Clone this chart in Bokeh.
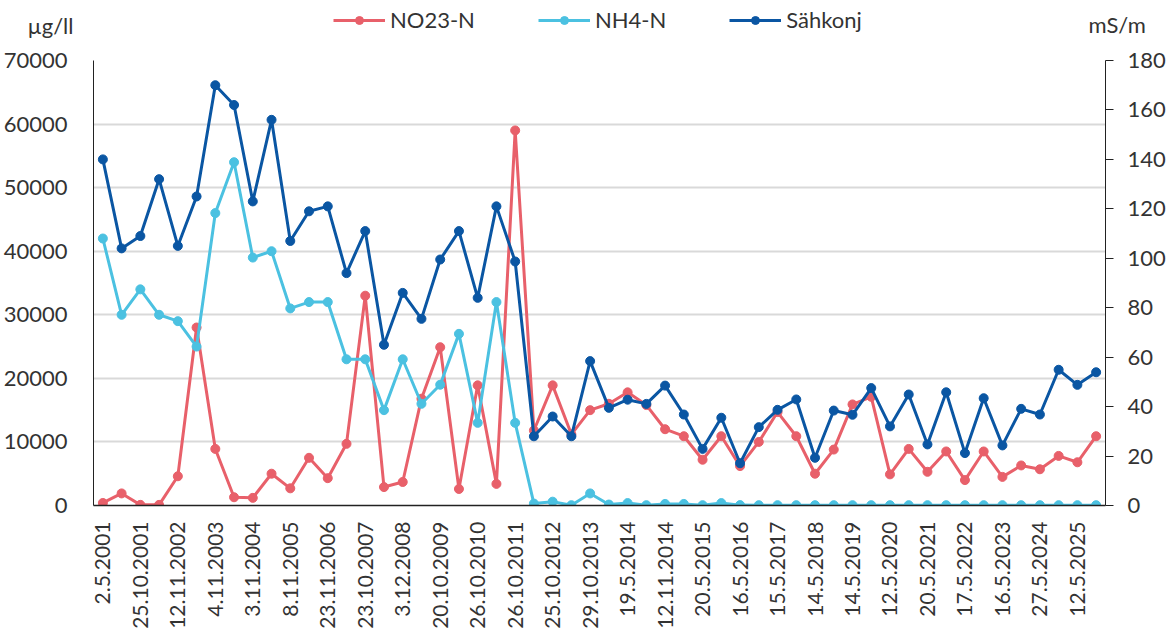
from bokeh.plotting import figure
from bokeh.layouts import column
from bokeh.models import (Range1d, LinearAxis, FixedTicker, Legend, LegendItem, Label)
from bokeh.embed import file_html
from bokeh.resources import INLINE
import math

tick_labels = ["2.5.2001", "25.10.2001", "12.11.2002", "4.11.2003", "3.11.2004", "8.11.2005",
               "23.11.2006", "23.10.2007", "3.12.2008", "20.10.2009", "26.10.2010", "26.10.2011",
               "25.10.2012", "29.10.2013", "19.5.2014", "12.11.2014", "20.5.2015", "16.5.2016",
               "15.5.2017", "14.5.2018", "14.5.2019", "12.5.2020", "20.5.2021", "17.5.2022",
               "16.5.2023", "27.5.2024", "12.5.2025"]

no23_n = [400, 1900, 100, 100, 4600, 28000, 8900, 1300, 1200, 5000,
          2700, 7500, 4300, 9700, 33000, 2900, 3700, 16800, 24900, 2600,
          18900, 3400, 59000, 11800, 18900, 11200, 15000, 16000, 17800, 15800,
          12000, 10900, 7200, 10900, 6200, 10000, 14700, 10900, 5000, 8800,
          15900, 17100, 4900, 8900, 5300, 8500, 4000, 8500, 4500, 6300,
          5700, 7800, 6800, 10900]

nh4_n = [42000, 30000, 34000, 30000, 29000, 25000, 46000, 54000, 39000, 40000,
         31000, 32000, 32000, 23000, 23000, 15000, 23000, 16000, 19000, 27000,
         13000, 32000, 13000, 300, 600, 50, 1900, 150, 380, 50,
         250, 250, 50, 380, 60, 50, 50, 50, 50, 50,
         50, 50, 50, 50, 50, 50, 50, 50, 50, 50,
         50, 50, 50, 50]

sahkonj = [140, 104, 109, 132, 105, 125, 170, 162, 123, 156,
           107, 119, 121, 94, 111, 65, 86, 75.5, 99.5, 111,
           84, 121, 98.7, 28, 36, 28, 58.4, 39.5, 42.8, 41.1,
           48.5, 36.8, 22.9, 35.5, 17.1, 31.7, 38.7, 42.9, 19.3, 38.4,
           36.7, 47.5, 32, 44.9, 24.7, 45.8, 21.2, 43.4, 24.3, 39.1,
           36.8, 54.9, 48.8, 53.9]

series_names = ["NO23-N", "NH4-N", "Sähkonj"]
left_unit = "µg/ll"
right_unit = "mS/m"

x_idx = list(range(len(sahkonj)))
label_ticks = list(range(0, len(sahkonj), 2))

FONT = "Lato"
FS = "22px"
TXT = "#333333"
RED = "#E8606A"
CYAN = "#4BC1E1"
BLUE = "#0A56A3"
W = 1168
HEAD_H = 44

# ---------------- main chart ----------------
p = figure(width=W, height=588, output_backend="svg", toolbar_location=None,
           x_range=Range1d(-0.5, 53.5), y_range=Range1d(0, 70000),
           min_border_left=93, min_border_right=59, min_border_top=16, min_border_bottom=127)
p.outline_line_color = None
p.background_fill_color = "white"
p.xgrid.grid_line_color = None
p.ygrid.grid_line_color = "#D9D9D9"
p.ygrid.grid_line_width = 2
p.ygrid.ticker = FixedTicker(ticks=list(range(0, 70001, 10000)))

ya = p.yaxis[0]
ya.ticker = FixedTicker(ticks=list(range(0, 70001, 10000)))
ya.major_tick_line_color = None
ya.minor_tick_line_color = None
ya.axis_line_color = "#222222"
ya.axis_line_width = 1
ya.major_label_standoff = 20
ya.major_label_text_font = FONT
ya.major_label_text_font_size = FS
ya.major_label_text_color = TXT

xa = p.xaxis[0]
xa.ticker = FixedTicker(ticks=label_ticks)
xa.major_label_overrides = {t: lab for t, lab in zip(label_ticks, tick_labels)}
xa.major_label_orientation = math.pi / 2
xa.major_tick_line_color = None
xa.minor_tick_line_color = None
xa.axis_line_color = "#222222"
xa.axis_line_width = 1.5
xa.major_label_standoff = 10
xa.major_label_text_font = FONT
xa.major_label_text_font_size = "21px"
xa.major_label_text_color = TXT

p.extra_y_ranges = {"r": Range1d(0, 180)}
ra = LinearAxis(y_range_name="r", ticker=FixedTicker(ticks=list(range(0, 181, 20))))
ra.major_tick_out = 8
ra.major_tick_in = 0
ra.major_tick_line_color = "#222222"
ra.minor_tick_line_color = None
ra.axis_line_color = "#222222"
ra.major_label_standoff = 14
ra.major_label_text_font = FONT
ra.major_label_text_font_size = FS
ra.major_label_text_color = TXT
p.add_layout(ra, "right")

p.line(x_idx, no23_n, line_color=RED, line_width=3)
p.scatter(x_idx, no23_n, size=9, fill_color=RED, line_color=RED)
p.line(x_idx, nh4_n, line_color=CYAN, line_width=3)
p.scatter(x_idx, nh4_n, size=9, fill_color=CYAN, line_color=CYAN)
p.line(x_idx, sahkonj, line_color=BLUE, line_width=3, y_range_name="r")
p.scatter(x_idx, sahkonj, size=9, fill_color=BLUE, line_color=BLUE, y_range_name="r")

# ---------------- header strip: legend + unit captions ----------------
h = figure(width=W, height=HEAD_H, output_backend="svg", toolbar_location=None,
           x_range=Range1d(0, W), y_range=Range1d(0, HEAD_H),
           x_axis_type=None, y_axis_type=None,
           min_border_left=0, min_border_right=0, min_border_top=0, min_border_bottom=0)
h.outline_line_color = None
h.xgrid.grid_line_color = None
h.ygrid.grid_line_color = None
try:
    h.frame_align = False
except Exception:
    pass

nan = float("nan")
items = []
for name, col in zip(series_names, [RED, CYAN, BLUE]):
    lr = h.line([nan], [nan], line_color=col, line_width=3)
    sr = h.scatter([nan], [nan], size=9, fill_color=col, line_color=col)
    items.append(LegendItem(label=name, renderers=[lr, sr]))

legend = Legend(items=items, orientation="horizontal", location=(333, 11),
                glyph_width=52, glyph_height=20, label_standoff=5, spacing=63,
                padding=0, margin=0, background_fill_alpha=0, border_line_color=None,
                label_text_font=FONT, label_text_font_size=FS, label_text_color=TXT)
h.add_layout(legend, "center")

h.add_layout(Label(x=73, y=HEAD_H - 25, text=left_unit, text_align="right",
                   text_baseline="middle", text_font=FONT, text_font_size=FS, text_color=TXT))
h.add_layout(Label(x=1088, y=HEAD_H - 24, text=right_unit, text_align="left",
                   text_baseline="middle", text_font=FONT, text_font_size=FS, text_color=TXT))

layout = column(h, p, spacing=0)
open("out.html", "w").write(file_html(layout, INLINE))
